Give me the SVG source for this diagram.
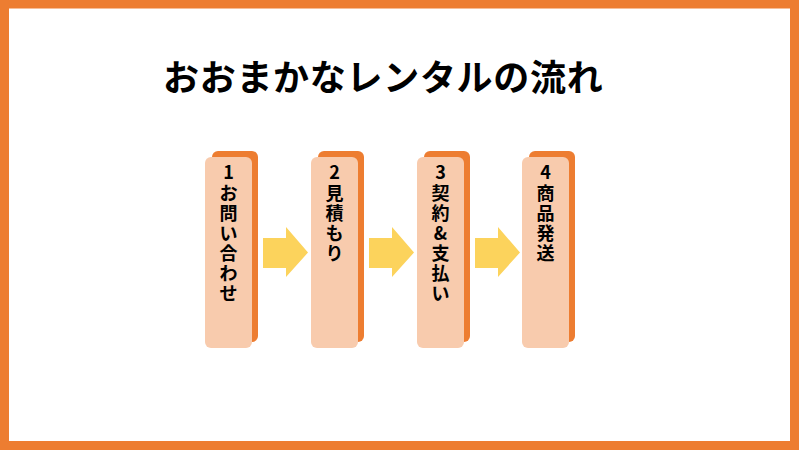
<svg xmlns="http://www.w3.org/2000/svg" width="800" height="450" viewBox="0 0 800 450">
<style>
.back{fill:#ED7D31}
.front{fill:#F8CBAD}
.arrow{fill:#FCD35C}
.t{font-family:"Noto Sans CJK JP","Liberation Sans",sans-serif;font-weight:700;font-size:18px;fill:#000;text-anchor:middle}
.title{font-family:"Noto Sans CJK JP","Liberation Sans",sans-serif;font-weight:700;font-size:36px;fill:#000}
</style>
<rect x="0" y="0" width="800" height="450" fill="#FFFFFF"/>
<rect x="4.5" y="4" width="790" height="441.5" fill="none" stroke="#ED7D31" stroke-width="9"/>
<text class="title" x="163" y="91" letter-spacing="0.7">おおまかなレンタルの流れ</text>
<g id="connectors">
<path class="arrow" d="M263,238 H286 V227 L308,252.5 L286,277 V268 H263 Z"/>
<path class="arrow" d="M369,238 H392 V227 L414,252.5 L392,277 V268 H369 Z"/>
<path class="arrow" d="M475,238 H498 V227 L520,252.5 L498,277 V268 H475 Z"/>
</g>
<g id="step1">
<rect class="back" x="212" y="151" width="46" height="191" rx="6"/>
<rect class="front" x="205" y="157" width="47" height="191" rx="6"/>
<text class="t"><tspan x="228.5" y="179">1</tspan><tspan x="228.5" y="200">お</tspan><tspan x="228.5" y="220">問</tspan><tspan x="228.5" y="240">い</tspan><tspan x="228.5" y="260">合</tspan><tspan x="228.5" y="280">わ</tspan><tspan x="228.5" y="300">せ</tspan></text>
</g>
<g id="step2">
<rect class="back" x="318" y="151" width="46" height="191" rx="6"/>
<rect class="front" x="311" y="157" width="47" height="191" rx="6"/>
<text class="t"><tspan x="334.5" y="179">2</tspan><tspan x="334.5" y="200">見</tspan><tspan x="334.5" y="220">積</tspan><tspan x="334.5" y="240">も</tspan><tspan x="334.5" y="260">り</tspan></text>
</g>
<g id="step3">
<rect class="back" x="424" y="151" width="46" height="191" rx="6"/>
<rect class="front" x="417" y="157" width="47" height="191" rx="6"/>
<text class="t"><tspan x="440.5" y="179">3</tspan><tspan x="440.5" y="200">契</tspan><tspan x="440.5" y="220">約</tspan><tspan x="440.5" y="240">&amp;</tspan><tspan x="440.5" y="260">支</tspan><tspan x="440.5" y="280">払</tspan><tspan x="440.5" y="300">い</tspan></text>
</g>
<g id="step4">
<rect class="back" x="529" y="151" width="46" height="191" rx="6"/>
<rect class="front" x="522" y="157" width="47" height="191" rx="6"/>
<text class="t"><tspan x="545.5" y="179">4</tspan><tspan x="545.5" y="200">商</tspan><tspan x="545.5" y="220">品</tspan><tspan x="545.5" y="240">発</tspan><tspan x="545.5" y="260">送</tspan></text>
</g>
</svg>
